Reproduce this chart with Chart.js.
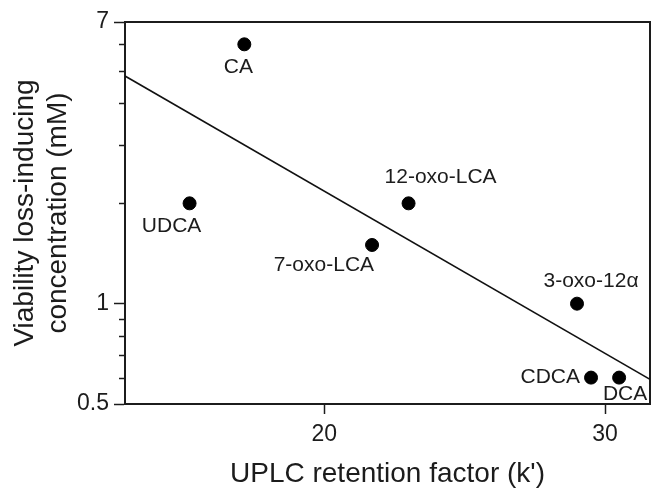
<!DOCTYPE html>
<html>
<head>
<meta charset="utf-8">
<script src="https://cdn.jsdelivr.net/npm/chart.js@4.4.1/dist/chart.umd.min.js"></script>
<style>
  html, body { margin: 0; padding: 0; background: #fff; }
</style>
</head>
<body>
<canvas id="chart" width="651" height="489"></canvas>
<script>
var acids = ['CA', 'UDCA', '7-oxo-LCA', '12-oxo-LCA', '3-oxo-12\u03b1', 'CDCA', 'DCA'];
var retention = [17.15, 15.2, 21.7, 23.0, 29.0, 29.5, 30.5];
var viability = [6.0, 2.0, 1.5, 2.0, 1.0, 0.6, 0.6];

// regression line (straight on the log axis)
var fitX = [12.9, 31.6];
var fitY = [4.82, 0.593];

var xTicks = [20, 30];
var yMajor = [0.5, 1, 7];
var yMinor = [0.6, 0.7, 0.8, 0.9, 2, 3, 4, 5, 6];

var FONT = '"Liberation Sans", Arial, Helvetica, sans-serif';
var INK = '#1c1c1c';

// where each name sits next to its dot
var labelPlace = {
  'CA':          { dx: -6,  dy: 23,  align: 'center' },
  'UDCA':        { dx: -18, dy: 23,  align: 'center' },
  '7-oxo-LCA':   { dx: 2,   dy: 20,  align: 'right' },
  '12-oxo-LCA':  { dx: 32,  dy: -26, align: 'center' },
  '3-oxo-12\u03b1': { dx: 14, dy: -22, align: 'center' },
  'CDCA':        { dx: -11, dy: 0,   align: 'right' },
  'DCA':         { dx: 6,   dy: 17,  align: 'center' }
};

var points = [];
for (var i = 0; i < acids.length; i++) {
  points.push({ x: retention[i], y: viability[i] });
}
var fitLine = [];
for (var j = 0; j < fitX.length; j++) {
  fitLine.push({ x: fitX[j], y: fitY[j] });
}

function noPadding(scale) {
  scale.paddingLeft = 0;
  scale.paddingRight = 0;
  scale.paddingTop = 0;
  scale.paddingBottom = 0;
}

var pointLabels = {
  id: 'pointLabels',
  afterDatasetsDraw: function(chart) {
    var ctx = chart.ctx;
    var meta = chart.getDatasetMeta(0);
    ctx.save();
    ctx.font = '21px ' + FONT;
    ctx.fillStyle = INK;
    ctx.textBaseline = 'middle';
    meta.data.forEach(function(el, k) {
      var p = labelPlace[acids[k]];
      ctx.textAlign = p.align;
      ctx.fillText(acids[k], el.x + p.dx, el.y + p.dy);
    });
    ctx.restore();
  }
};

// short minor ticks on the log axis
var minorTicks = {
  id: 'minorTicks',
  afterDraw: function(chart) {
    var ctx = chart.ctx;
    var ys = chart.scales.y;
    ctx.save();
    ctx.strokeStyle = INK;
    ctx.lineWidth = 1.5;
    yMinor.forEach(function(v) {
      var py = Math.round(ys.getPixelForValue(v)) + 0.5;
      ctx.beginPath();
      ctx.moveTo(ys.right - 6, py);
      ctx.lineTo(ys.right, py);
      ctx.stroke();
    });
    ctx.restore();
  }
};

new Chart(document.getElementById('chart'), {
  type: 'scatter',
  data: {
    datasets: [{
      data: points,
      backgroundColor: '#000',
      borderColor: '#000',
      pointRadius: 6.5,
      pointHoverRadius: 6.5
    }, {
      type: 'line',
      data: fitLine,
      showLine: true,
      borderColor: '#111',
      borderWidth: 1.6,
      pointRadius: 0,
      fill: false
    }]
  },
  options: {
    responsive: false,
    animation: false,
    layout: { autoPadding: false, padding: { top: 22, right: 1, left: 0, bottom: 0 } },
    plugins: {
      legend: { display: false },
      tooltip: { enabled: false }
    },
    scales: {
      x: {
        type: 'linear',
        min: 12.9,
        max: 31.6,
        afterBuildTicks: function(scale) {
          scale.ticks = xTicks.map(function(v) { return { value: v }; });
        },
        afterFit: function(scale) { scale.height = 85; noPadding(scale); },
        grid: { drawOnChartArea: false, tickLength: 10, tickColor: INK, tickWidth: 1.5 },
        border: { color: INK, width: 2 },
        ticks: { color: INK, font: { family: FONT, size: 23 }, padding: 7, maxRotation: 0 },
        title: {
          display: true,
          text: "UPLC retention factor (k')",
          color: INK,
          font: { family: FONT, size: 28, lineHeight: 1.05 },
          padding: { top: 0, bottom: 0 }
        }
      },
      y: {
        type: 'logarithmic',
        min: 0.5,
        max: 7,
        afterBuildTicks: function(scale) {
          scale.ticks = yMajor.concat(yMinor).map(function(v) { return { value: v }; });
        },
        afterFit: function(scale) { scale.width = 125; noPadding(scale); },
        grid: {
          drawOnChartArea: false,
          tickLength: 11,
          tickWidth: 1.5,
          tickColor: function(c) {
            return yMajor.indexOf(c.tick.value) >= 0 ? INK : 'rgba(0,0,0,0)';
          }
        },
        border: { color: INK, width: 2 },
        ticks: {
          color: INK,
          font: { family: FONT, size: 23 },
          padding: 5,
          autoSkip: false,
          callback: function(v) {
            return yMajor.indexOf(v) >= 0 ? String(v) : '';
          }
        },
        title: {
          display: true,
          text: ['Viability loss-inducing', 'concentration (mM)'],
          color: INK,
          font: { family: FONT, size: 28, lineHeight: 1.2 },
          padding: { top: 8, bottom: 0 }
        }
      },
      xTop: {
        type: 'linear',
        position: 'top',
        min: 12.9,
        max: 31.6,
        afterFit: function(scale) { scale.height = 0; noPadding(scale); },
        grid: { display: false },
        border: { color: INK, width: 2 },
        ticks: { display: false }
      },
      yRight: {
        type: 'linear',
        position: 'right',
        min: 0,
        max: 1,
        afterFit: function(scale) { scale.width = 0; noPadding(scale); },
        grid: { display: false },
        border: { color: INK, width: 2 },
        ticks: { display: false }
      }
    }
  },
  plugins: [pointLabels, minorTicks]
});
</script>
</body>
</html>
